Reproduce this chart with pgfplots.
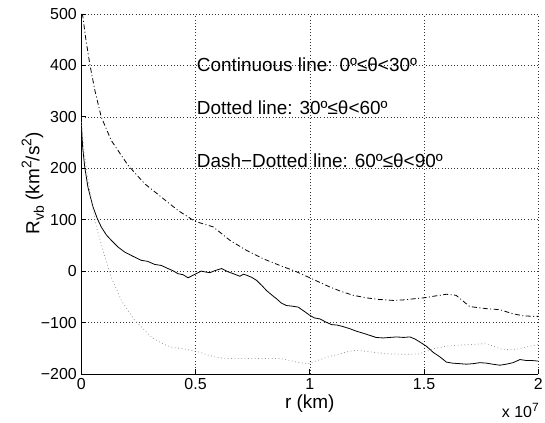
\documentclass[border=0pt]{standalone}
\usepackage{pgfplots}
\pgfplotsset{compat=1.18}
\usepackage{fontspec}
\setmainfont{Liberation Sans}
\newcommand{\sups}[1]{\raisebox{0.8ex}{\fontsize{14}{14}\selectfont #1}}
\newcommand{\subs}[1]{\raisebox{-0.45ex}{\fontsize{14}{14}\selectfont #1}}
\begin{document}
\begin{tikzpicture}
\begin{axis}[
  scale only axis,
  width=457bp, height=360bp,
  xmin=0, xmax=2, ymin=-200, ymax=500,
  axis x line=bottom, axis y line=left,
  axis line style={-, line width=0.9pt, black},
  xtick={0,0.5,1,1.5,2},
  xticklabels={0,0.5,1,1.5,2},
  ytick={-200,-100,0,100,200,300,400,500},
  yticklabels={−200,−100,0,100,200,300,400,500},
  tick align=inside,
  major tick length=5bp,
  tick style={black, line width=0.7pt},
  ticklabel style={font=\fontsize{16}{18}\selectfont},
  xticklabel style={yshift=-1bp},
  yticklabel style={xshift=-1bp},
  grid=major,
  major grid style={black!80, line width=0.5pt, dash pattern=on 0.6pt off 2.6pt},
  xlabel={r (km)},
  ylabel={R\subs{vb} (km\sups{2}/s\sups{2})},
  label style={font=\fontsize{19}{22}\selectfont},
  xlabel style={at={(rel axis cs:0.5,-0.083)}, anchor=center},
  ylabel style={at={(rel axis cs:-0.106,0.53)}, anchor=center, rotate=0},
  clip=true,
]
% continuous line: 0-30 deg
\addplot[black, line width=0.8pt] coordinates {
(0,287) (0.006,240) (0.015,202) (0.029,163) (0.051,125) (0.070,102) (0.087,86) (0.110,70) (0.131,60)
(0.160,47) (0.190,37) (0.225,29) (0.262,21) (0.290,19) (0.321,13) (0.350,11) (0.379,5) (0.400,1)
(0.423,-5) (0.445,-7) (0.467,-13) (0.485,-9) (0.503,-5) (0.525,0) (0.547,-2) (0.563,-3) (0.585,1)
(0.614,5) (0.640,-1) (0.665,-5) (0.694,-10) (0.710,-6) (0.723,-8) (0.745,-12) (0.767,-18)
(0.790,-28) (0.811,-38) (0.835,-47) (0.855,-54) (0.875,-62) (0.898,-67) (0.920,-68) (0.949,-70)
(0.975,-78) (1.0,-86) (1.020,-91) (1.044,-93) (1.070,-99) (1.095,-104) (1.120,-105) (1.146,-108)
(1.175,-112) (1.205,-117) (1.235,-121) (1.263,-125) (1.290,-129) (1.321,-130) (1.350,-129)
(1.380,-128) (1.410,-129) (1.438,-128) (1.460,-132) (1.482,-138) (1.510,-146) (1.540,-158)
(1.570,-167) (1.598,-177) (1.625,-179) (1.657,-180) (1.685,-181) (1.715,-180) (1.745,-178)
(1.773,-179) (1.800,-181) (1.832,-183) (1.860,-181) (1.890,-178) (1.920,-172) (1.950,-174)
(1.975,-174) (2.0,-175)
};
% dotted line: 30-60 deg
\addplot[black!40, line width=0.8pt, dash pattern=on 0.8pt off 2.6pt] coordinates {
(0,290) (0.010,240) (0.025,190) (0.044,137) (0.066,86) (0.095,40) (0.131,-12) (0.175,-57)
(0.234,-96) (0.306,-128) (0.350,-140) (0.394,-148) (0.446,-151) (0.481,-154) (0.519,-158)
(0.560,-164) (0.607,-169) (0.650,-170) (0.694,-170) (0.740,-170) (0.782,-170) (0.825,-170)
(0.869,-170) (0.905,-173) (0.942,-177) (0.993,-180) (1.025,-175) (1.059,-170) (1.095,-165)
(1.132,-161) (1.170,-156) (1.205,-154) (1.248,-156) (1.300,-159) (1.350,-161) (1.415,-162)
(1.480,-161) (1.510,-156) (1.540,-151) (1.598,-146) (1.650,-144) (1.700,-143) (1.773,-141)
(1.810,-147) (1.846,-153) (1.905,-152) (1.945,-148) (1.977,-145) (2.0,-143)
};
% dash-dotted line: 60-90 deg
\addplot[black, line width=0.8pt, dash pattern=on 5pt off 2.5pt on 1pt off 2.5pt] coordinates {
(0,500) (0.006,497) (0.020,450) (0.038,400) (0.060,350) (0.087,300) (0.131,254) (0.204,206)
(0.277,170) (0.350,144) (0.423,118) (0.496,97) (0.577,86) (0.650,60) (0.724,40) (0.796,24)
(0.869,11) (0.935,0) (1.0,-13) (1.044,-22) (1.088,-31) (1.140,-40) (1.19,-47) (1.248,-52)
(1.300,-55) (1.365,-57) (1.410,-56) (1.452,-54) (1.500,-52) (1.54,-49) (1.598,-45) (1.64,-47)
(1.670,-58) (1.70,-69) (1.773,-73) (1.832,-75) (1.860,-79) (1.89,-83) (1.934,-87) (1.98,-88) (2.0,-88)
};
\begin{scope}[every node/.style={inner sep=0pt, anchor=base west, font=\fontsize{19}{22}\selectfont}]
\node at (axis cs:0.505,388.5) {Continuous line: 0º≤θ<30º};
\node at (axis cs:0.505,305) {Dotted line: 30º≤θ<60º};
\node at (axis cs:0.505,202) {Dash−Dotted line: 60º≤θ<90º};
\end{scope}
\coordinate (mult) at (rel axis cs:0.92,-0.122);
\coordinate (bbll) at (rel axis cs:-0.178,-0.136);
\coordinate (bbur) at (rel axis cs:1.0147,1.0389);
\end{axis}
\node[inner sep=0pt, anchor=base west, font=\fontsize{16}{18}\selectfont] at (mult) {x 10\raisebox{0.8ex}{\fontsize{12}{12}\selectfont 7}};
\pgfresetboundingbox
\path[use as bounding box] (bbll) rectangle (bbur);
\end{tikzpicture}
\end{document}
